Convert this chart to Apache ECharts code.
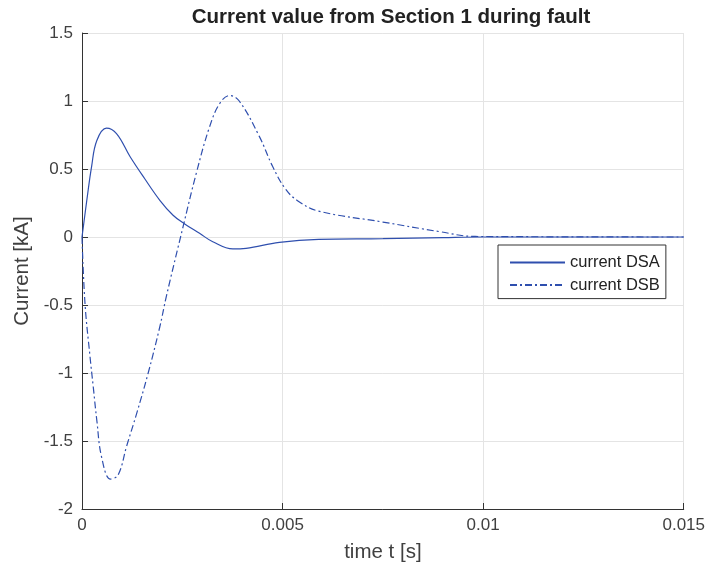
<!DOCTYPE html>
<html>
<head>
<meta charset="utf-8">
<script src="https://cdn.jsdelivr.net/npm/echarts@6/dist/echarts.min.js"></script>
<style>
  html, body { margin: 0; padding: 0; background: #fff; }
  #chart { width: 708px; height: 572px; }
</style>
</head>
<body>
<div id="chart"></div>
<script>
// time samples [s] and current [kA]
const dsaTime = [0, 0.00012, 0.00024, 0.00037, 0.00061, 0.00086, 0.0012, 0.00156, 0.00194, 0.00227, 0.00256, 0.00293, 0.00326, 0.00376, 0.00409, 0.00492, 0.0059, 0.0075, 0.009, 0.01, 0.015];
const dsaCurrent = [0, 0.27, 0.52, 0.71, 0.80, 0.76, 0.59, 0.43, 0.27, 0.16, 0.096, 0.027, -0.035, -0.088, -0.083, -0.039, -0.017, -0.012, -0.004, 0, 0];

const dsbTime = [0, 0.000075, 0.0002, 0.00028, 0.00037, 0.00049, 0.00071, 0.0009, 0.00111, 0.00136, 0.00165, 0.00194, 0.0021, 0.00252, 0.00285, 0.00318, 0.00343, 0.00368, 0.00392, 0.00442, 0.00475, 0.00508, 0.00541, 0.0059, 0.0075, 0.0089, 0.0098, 0.015];
const dsbCurrent = [0, -0.49, -0.88, -1.10, -1.35, -1.62, -1.78, -1.75, -1.54, -1.30, -1.00, -0.66, -0.44, 0.076, 0.47, 0.81, 0.98, 1.04, 1.0, 0.74, 0.52, 0.35, 0.26, 0.19, 0.11, 0.04, 0.004, 0];

const xTicks = { min: 0, max: 0.015, interval: 0.005 };
const yTicks = { min: -2, max: 1.5, interval: 0.5 };

const lineColor = "#2f4fae";
const font = "Arial, 'Liberation Sans', Helvetica, sans-serif";
const textGray = "#404040";

const chart = echarts.init(document.getElementById("chart"));

const option = {
  animation: false,
  title: {
    text: "Current value from Section 1 during fault",
    left: 386, top: 2, textAlign: "center",
    textStyle: { fontFamily: font, fontSize: 20.5, fontWeight: "bold", color: "#222" }
  },
  grid: { left: 82, right: 22, top: 33, bottom: 63, containLabel: false },
  legend: {
    orient: "vertical",
    left: 498, top: 245,
    backgroundColor: "#fff",
    borderColor: "#333", borderWidth: 1,
    padding: [9, 6, 5, 11],
    itemGap: 5.6,
    itemWidth: 55, itemHeight: 16,
    itemStyle: { color: "transparent", borderWidth: 0, opacity: 0 },
    textStyle: { fontFamily: font, fontSize: 16.5, color: "#222" },
    data: ["current DSA", "current DSB"]
  },
  xAxis: {
    type: "value", min: xTicks.min, max: xTicks.max, interval: xTicks.interval,
    name: "time t [s]", nameLocation: "middle", nameGap: 33,
    nameTextStyle: { fontFamily: font, fontSize: 20.5, color: textGray },
    axisLine: { onZero: false, lineStyle: { color: "#333", width: 1 } },
    axisTick: { inside: true, length: 6, lineStyle: { color: "#333" } },
    axisLabel: { fontFamily: font, fontSize: 17, color: textGray, margin: 8,
      formatter: v => String(+v.toFixed(4)) },
    splitLine: { show: true, lineStyle: { color: "#e4e4e4" } }
  },
  yAxis: {
    type: "value", min: yTicks.min, max: yTicks.max, interval: yTicks.interval,
    name: "Current [kA]", nameLocation: "middle", nameGap: 47,
    nameTextStyle: { fontFamily: font, fontSize: 20.5, color: textGray },
    axisLine: { show: true, lineStyle: { color: "#333", width: 1 } },
    axisTick: { show: true, inside: true, length: 6, lineStyle: { color: "#333" } },
    axisLabel: { fontFamily: font, fontSize: 17, color: textGray, margin: 9,
      formatter: v => String(+v.toFixed(2)) },
    splitLine: { show: true, lineStyle: { color: "#e4e4e4" } }
  },
  series: [
    {
      name: "current DSA", type: "line", smooth: 0.4, symbol: "none",
      lineStyle: { color: lineColor, width: 1.2, type: "solid" },
      itemStyle: { color: lineColor },
      data: dsaTime.map((t, i) => [t, dsaCurrent[i]])
    },
    {
      name: "current DSB", type: "line", smooth: 0.4, symbol: "none",
      lineStyle: { color: lineColor, width: 1.2, type: [7, 3, 2, 3] },
      itemStyle: { color: lineColor },
      data: dsbTime.map((t, i) => [t, dsbCurrent[i]])
    }
  ]
};

chart.setOption(option);
</script>
</body>
</html>
